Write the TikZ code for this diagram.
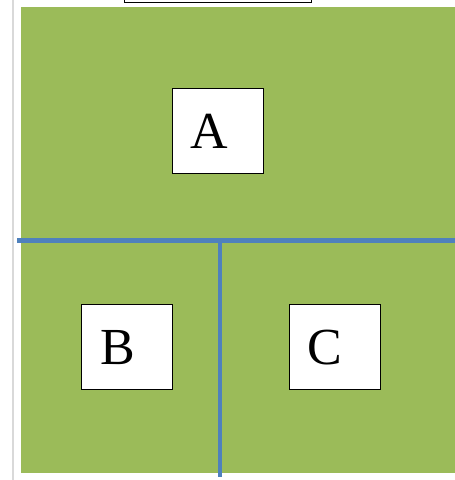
\documentclass[tikz,border=0pt]{standalone}
\usepackage{fontspec}
\setmainfont{Liberation Serif}
\definecolor{leaf}{HTML}{9BBB59}
\definecolor{divider}{HTML}{4F81BD}
\begin{document}
\begin{tikzpicture}[x=1pt,y=-1pt,
  roombox/.style={draw=black,line width=0.9pt,fill=white,minimum width=91pt,minimum height=85pt,inner sep=0pt},
  roomlabel/.style={font=\fontsize{52}{52}\selectfont},
  wall/.style={draw=divider,line width=4.8pt}]
\useasboundingbox (0,0) rectangle (455,480);
\fill[white] (0,0) rectangle (455,480);
% page edge shadow
\draw[black!15,line width=2pt] (13,0) -- (13,480);
% top box
\draw[black,line width=0.9pt,fill=white] (124,-5) rectangle (311,2);
% green area
\fill[leaf] (21,7) rectangle (456,473);
% dividers
\coordinate (hl) at (17,240.5);
\coordinate (hr) at (456,240.5);
\coordinate (vt) at (220,240.5);
\coordinate (vb) at (220,477);
\draw[wall] (hl) -- (hr);
\draw[wall] (vt) -- (vb);
% rooms
\node[roombox,label={[roomlabel,xshift=-8.5pt,yshift=-1pt]center:A}] (a) at (217.5,130.5) {};
\node[roombox,label={[roomlabel,xshift=-8.5pt,yshift=-1pt]center:B}] (b) at (126.5,347) {};
\node[roombox,label={[roomlabel,xshift=-9.5pt,yshift=-1pt]center:C}] (c) at (334.5,347) {};
\end{tikzpicture}
\end{document}
